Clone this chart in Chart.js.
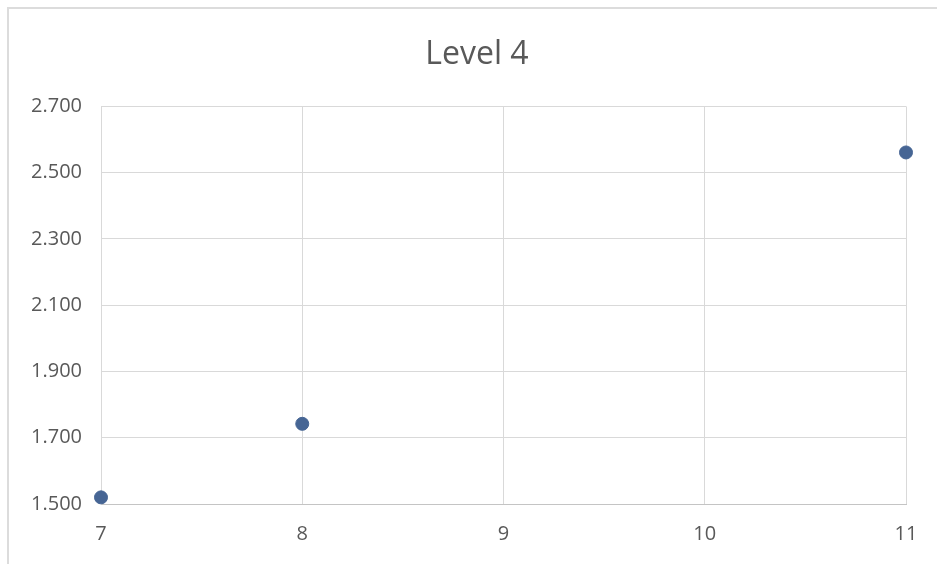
<!DOCTYPE html>
<html>
<head>
<meta charset="utf-8">
<title>Level 4</title>
<script src="https://cdn.jsdelivr.net/npm/chart.js@4"></script>
<style>
  html, body { margin: 0; padding: 0; background: #fff; overflow: hidden; }
  #wrap { position: relative; width: 937px; height: 564px; }
  #frame {
    position: absolute; left: 7px; top: 7px; right: -4px; bottom: -4px;
    border: 2px solid #dcdcdc; pointer-events: none;
  }
  canvas { position: absolute; left: 0; top: 0; }
</style>
</head>
<body>
<div id="wrap">
  <canvas id="c" width="937" height="564"></canvas>
  <div id="frame"></div>
</div>
<script>
// ── DATA ─────────────────────────────────────────────────────
const title = 'Level 4';
const xValues = [7, 8, 11];
const yValues = [1.52, 1.742, 2.561];
const xTicks = [7, 8, 9, 10, 11];
const yTicks = [1.5, 1.7, 1.9, 2.1, 2.3, 2.5, 2.7];

// ── STYLE ────────────────────────────────────────────────────
const txt = '#595959';
const grid = '#d9d9d9';
const dot = '#466594';
const font = "'Open Sans', 'Liberation Sans', sans-serif";

const points = xValues.map((x, i) => ({ x, y: yValues[i] }));

new Chart(document.getElementById('c'), {
  type: 'scatter',
  data: {
    datasets: [{
      data: points,
      backgroundColor: dot,
      borderColor: dot,
      pointRadius: 6.5,
      pointHoverRadius: 6.5,
      clip: false
    }]
  },
  options: {
    responsive: false,
    animation: false,
    // title spans 17..937, so it sits a bit right of the canvas centre
    layout: { padding: { left: 17, right: 0, top: 0, bottom: 0 } },
    plugins: {
      legend: { display: false },
      tooltip: { enabled: false },
      title: {
        display: true,
        text: title,
        color: txt,
        font: { family: font, size: 32, weight: 'normal', lineHeight: 1.2 },
        padding: { top: 36, bottom: 32 }
      }
    },
    scales: {
      x: {
        type: 'linear',
        min: xTicks[0],
        max: xTicks[xTicks.length - 1],
        afterBuildTicks: s => { s.ticks = xTicks.map(v => ({ value: v })); },
        afterFit: s => { s.height = 60; },
        grid: { color: grid, drawTicks: false },
        border: { color: '#c4c4c4', width: 1 },
        ticks: {
          color: txt, padding: 18, maxRotation: 0,
          font: { family: font, size: 20, lineHeight: 1.2 }
        }
      },
      y: {
        min: yTicks[0],
        max: yTicks[yTicks.length - 1],
        afterBuildTicks: s => { s.ticks = yTicks.map(v => ({ value: v })); },
        afterFit: s => { s.width = 84; },
        grid: { color: grid, drawTicks: false },
        border: { color: grid, width: 1 },
        ticks: {
          color: txt, padding: 19,
          font: { family: font, size: 20, lineHeight: 1.2 },
          callback: v => Number(v).toFixed(3)
        }
      },
      // empty spacer on the right, keeps the plot edge at x=906
      spacer: {
        position: 'right',
        min: 0, max: 1,
        afterFit: s => { s.width = 31; },
        grid: { display: false, drawTicks: false },
        border: { display: false },
        ticks: { display: false }
      }
    }
  }
});
</script>
</body>
</html>
